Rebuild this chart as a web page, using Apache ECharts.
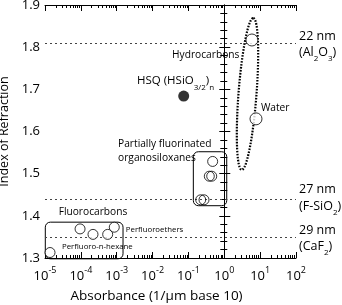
<html>
<head>
<meta charset="utf-8">
<script src="https://cdn.jsdelivr.net/npm/echarts@6/dist/echarts.min.js"></script>
<style>body{margin:0;background:#fff}</style>
</head>
<body>
<div id="main" style="width:342px;height:305px;"></div>
<script type="text/javascript">
// values (absorbance in 1/um, index of refraction)
var fluoroAbs = [1.38e-5, 9.5e-5, 2.18e-4, 5.6e-4, 8.55e-4];
var fluoroN   = [1.313, 1.369, 1.356, 1.356, 1.373];
var siloxAbs  = [0.474, 0.446, 0.382, 0.22, 0.272];
var siloxN    = [1.529, 1.494, 1.494, 1.438, 1.438];
var hydroAbs  = [5.9];
var hydroN    = [1.817];
var waterAbs  = [7.66];
var waterN    = [1.63];
var hsqAbs    = [0.0738];
var hsqN      = [1.684];
var refN      = [1.81, 1.4375, 1.35];
var decades   = [-5, -4, -3, -2, -1, 0, 1, 2];

var FONT = 'Open Sans';
var lg = function (v) { return Math.log10(v); };
var pts = function (xs, ys) { return xs.map(function (x, i) { return [lg(x), ys[i]]; }); };

var minorVals = [];
for (var d = -5; d < 2; d++) {
    for (var k = 2; k < 10; k++) minorVals.push(d + Math.log10(k));
}

function xAx(pos, minor, labels) {
    return {
        type: 'value', position: pos, min: -5, max: 2, interval: 1,
        axisLine: {show: !minor, lineStyle: {color: '#000', width: 1}},
        splitLine: {show: false},
        axisTick: minor ? {inside: true, length: 3, customValues: minorVals, lineStyle: {color: '#000'}}
                        : {inside: true, length: 6, lineStyle: {color: '#000'}},
        axisLabel: labels ? {
            margin: 8,
            formatter: function (v) { return '{b|10}{s|' + Math.round(v) + '}'; },
            rich: {
                b: {fontFamily: FONT, fontSize: 13, color: '#000', lineHeight: 17, verticalAlign: 'bottom'},
                s: {fontFamily: FONT, fontSize: 9, color: '#000', lineHeight: 10, verticalAlign: 'top'}
            }
        } : {show: false},
        name: labels ? 'Absorbance (1/\u03bcm base 10)' : '',
        nameLocation: 'middle', nameGap: 31,
        nameTextStyle: {fontFamily: FONT, fontSize: 13.5, color: '#000', padding: [0, 28, 0, 0]}
    };
}

var myChart = echarts.init(document.getElementById('main'));
var circleStyle = {color: '#fff', borderColor: '#000', borderWidth: 1};

var option = {
    animation: false,
    grid: {left: 45, right: 46, top: 5, bottom: 47, containLabel: false, outerBoundsMode: 'none'},
    xAxis: [xAx('bottom', false, true), xAx('bottom', true, false), xAx('top', false, false), xAx('top', true, false)],
    yAxis: [{
        type: 'value', position: 'left', min: 1.3, max: 1.9, interval: 0.1,
        axisLine: {lineStyle: {color: '#000'}},
        splitLine: {show: false},
        axisTick: {inside: true, length: 6, lineStyle: {color: '#000'}},
        minorTick: {show: true, splitNumber: 5, length: 3, lineStyle: {color: '#000'}},
        axisLabel: {fontFamily: FONT, fontSize: 13, color: '#000', margin: 5,
            formatter: function (v) { return v.toFixed(1); }},
        name: 'Index of Refraction', nameLocation: 'middle', nameGap: 25,
        nameTextStyle: {fontFamily: FONT, fontSize: 12.5, color: '#000'}
    }, {
        type: 'value', position: 'right', min: 1.3, max: 1.9, interval: 0.1,
        axisLine: {lineStyle: {color: '#000'}},
        splitLine: {show: false},
        axisTick: {inside: true, length: 5, lineStyle: {color: '#000'}},
        minorTick: {show: true, splitNumber: 5, length: 4, lineStyle: {color: '#000'}},
        axisLabel: {show: false}
    }],
    series: [{
        type: 'scatter', symbol: 'circle', symbolSize: 10, z: 5,
        data: pts(fluoroAbs, fluoroN), itemStyle: circleStyle,
        markLine: {
            silent: true, symbol: 'none', label: {show: false},
            lineStyle: {color: '#444', width: 1, type: [2, 3]},
            data: refN.map(function (n) { return {yAxis: n}; })
        }
    }, {
        type: 'scatter', symbol: 'circle', symbolSize: 10, z: 5,
        data: pts(siloxAbs, siloxN),
        itemStyle: {color: 'rgba(0,0,0,0)', borderColor: '#000', borderWidth: 1}
    }, {
        type: 'scatter', symbol: 'circle', symbolSize: 12, z: 5,
        data: pts(hydroAbs, hydroN), itemStyle: circleStyle
    }, {
        type: 'scatter', symbol: 'circle', symbolSize: 12, z: 5,
        data: pts(waterAbs, waterN), itemStyle: circleStyle
    }, {
        type: 'scatter', symbol: 'circle', symbolSize: 11, z: 5,
        data: pts(hsqAbs, hsqN), itemStyle: {color: '#000'}
    }]
};
myChart.setOption(option);

// annotations, placed in data coordinates
function px(a, n) { return myChart.convertToPixel({gridIndex: 0}, [lg(a), n]); }

var txt = {fontFamily: FONT, fontSize: 10.2, color: '#000'};
var small = {fontFamily: FONT, fontSize: 7.8, color: '#000'};
var subRich = {
    t: {fontFamily: FONT, fontSize: 11.5, color: '#000', lineHeight: 14, verticalAlign: 'top'},
    T: {fontFamily: FONT, fontSize: 12.5, color: '#000', lineHeight: 15, verticalAlign: 'top'},
    u: {fontFamily: FONT, fontSize: 8, color: '#000', lineHeight: 8, padding: [9, 0, 0, 0], verticalAlign: 'top'}
};

var notes = [
    {t: 'Hydrocarbons', a: 0.035, n: 1.781, s: txt},
    {t: '{t|HSQ (HSiO}{u|3/2}{t|)}{u|n}', a: 0.00368, n: 1.717, rich: true},
    {t: 'Water', a: 10.5, n: 1.656, s: txt},
    {t: 'Partially fluorinated', a: 1.09e-3, n: 1.570, s: txt},
    {t: 'organosiloxanes', a: 1.09e-3, n: 1.537, s: txt},
    {t: 'Fluorocarbons', a: 2.4e-5, n: 1.409, s: txt},
    {t: 'Perfluoroethers', a: 1.8e-3, n: 1.366, s: small},
    {t: 'Perfluoro-n-hexane', a: 2.98e-5, n: 1.326, s: small}
];
var sideNotes = [
    {t: '{T|22 nm}', n: 1.822},
    {t: '{T|(Al}{u|2}{T|O}{u|3}{T|)}', n: 1.786},
    {t: '{T|27 nm}', n: 1.461},
    {t: '{T|(F-SiO}{u|2}{T|)}', n: 1.421},
    {t: '{T|29 nm}', n: 1.362},
    {t: '{T|(CaF}{u|2}{T|)}', n: 1.326}
];
// boxes: [absLeft, absRight, nTop, nBottom]
var boxes = [[1.02e-5, 1.5e-3, 1.385, 1.298], [0.137, 1.17, 1.552, 1.424]];
// dotted ellipse around hydrocarbons/water: tips and half-width in px
var ell = {top: [6.44, 1.869], bottom: [3.06, 1.509], half: 9};

var g = [];
notes.forEach(function (o) {
    var p = px(o.a, o.n);
    var st = {x: p[0], y: p[1], text: o.t, verticalAlign: 'middle', align: 'left'};
    if (o.rich) { st.rich = subRich; st.fontFamily = FONT; st.fontSize = 11.5; }
    else { st.fontFamily = o.s.fontFamily; st.fontSize = o.s.fontSize; st.fill = o.s.color; }
    g.push({type: 'text', z: 20, style: st});
});
sideNotes.forEach(function (o) {
    var p = px(100, o.n);
    g.push({type: 'text', z: 20, style: {x: p[0] + 3, y: p[1], text: o.t, rich: subRich,
        verticalAlign: 'middle', align: 'left', fontFamily: FONT, fontSize: 12.5}});
});
boxes.forEach(function (b) {
    var p1 = px(b[0], b[2]), p2 = px(b[1], b[3]);
    g.push({type: 'rect', z: 3, shape: {x: p1[0], y: p1[1], width: p2[0] - p1[0], height: p2[1] - p1[1], r: 5},
        style: {fill: 'none', stroke: '#000', lineWidth: 1}});
});
(function () {
    var a = px(ell.top[0], ell.top[1]), b = px(ell.bottom[0], ell.bottom[1]);
    var cx = (a[0] + b[0]) / 2, cy = (a[1] + b[1]) / 2;
    var dx = a[0] - b[0], dy = a[1] - b[1];
    var L = Math.sqrt(dx * dx + dy * dy), ux = dx / L, uy = dy / L;
    var poly = [];
    for (var i = 0; i < 120; i++) {
        var t = i / 120 * Math.PI * 2;
        var c = Math.cos(t) * L / 2, s = Math.sin(t) * ell.half;
        poly.push([cx + c * ux - s * uy, cy + c * uy + s * ux]);
    }
    g.push({type: 'polygon', z: 3, shape: {points: poly},
        style: {fill: 'none', stroke: '#000', lineWidth: 2.2, lineDash: [1.6, 1.4]}});
})();

myChart.setOption({graphic: g});
</script>
</body>
</html>
